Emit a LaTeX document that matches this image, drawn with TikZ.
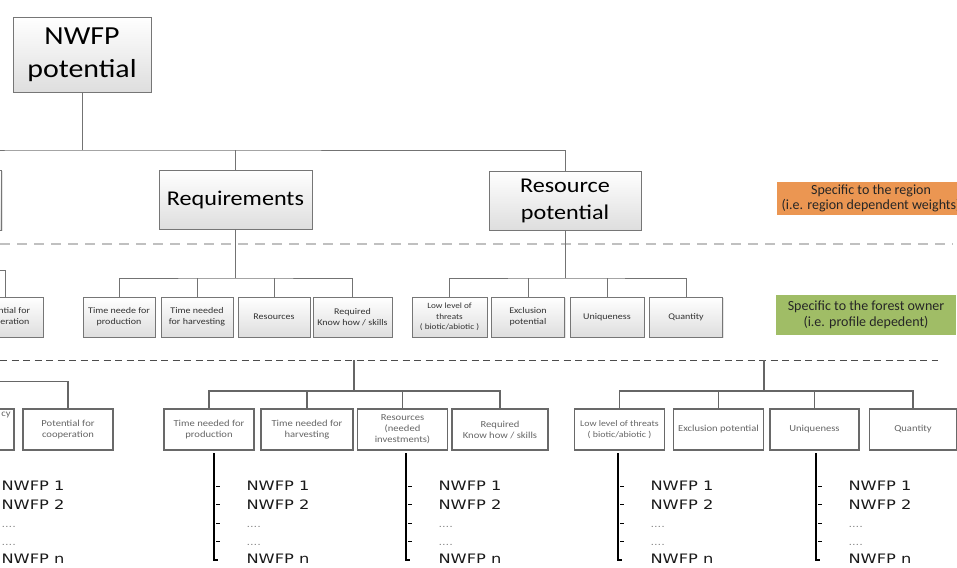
\documentclass[tikz,border=0pt]{standalone}
\usepackage{fontspec}
\setmainfont[FakeStretch=1.15]{Carlito}
\newfontfamily\labelfont{Carlito}
\newfontfamily\listfont[FakeStretch=1.25]{DejaVu Sans}
\usetikzlibrary{shadows}

\definecolor{boxline}{RGB}{118,118,118}
\definecolor{subline}{RGB}{105,105,105}
\definecolor{regionorange}{RGB}{235,150,82}
\definecolor{ownergreen}{RGB}{160,189,102}
\definecolor{dashgray}{RGB}{192,192,192}

\tikzset{
  mainbox/.style={draw=boxline, line width=0.9pt, top color=white, bottom color=black!13,
    align=center, inner sep=2pt, drop shadow={opacity=0.2, shadow xshift=1.2pt, shadow yshift=-1.2pt}},
  critbox/.style={mainbox, minimum height=40pt, font=\fontsize{8.7}{11}\selectfont, text=black!80},
  subbox/.style={draw=subline, line width=1.4pt, fill=white, align=center, minimum width=90pt,
    minimum height=41pt, inner sep=1pt, font=\fontsize{9.2}{11}\selectfont, text=black!60},
  conn/.style={draw=black!55, line width=0.9pt},
  subconn/.style={draw=black!60, line width=1.4pt},
  tagbox/.style={align=center, text=black!85, font=\labelfont\fontsize{14}{15.5}\selectfont, inner sep=0pt},
  listitem/.style={anchor=base west, text=black!90, font=\listfont\fontsize{13}{15}\selectfont},
  dotitem/.style={anchor=base west, text=black!50, font=\listfont\fontsize{9}{10}\selectfont}
}

\begin{document}
\begin{tikzpicture}[x=1pt, y=-1pt]
    % Frame of the picture, cut on the left
    \useasboundingbox (0,0) rectangle (957,567);
    \clip (0,0) rectangle (957,567);

    % Top level and second level boxes
    \node[mainbox, minimum width=138pt, minimum height=75pt, font=\fontsize{26}{33}\selectfont] (top) at (82,54.5) {NWFP\\potential};
    \node[mainbox, minimum width=152pt, minimum height=60pt] (lefttop) at (-74.5,200) {};
    \node[mainbox, minimum width=153pt, minimum height=59pt, font=\fontsize{21}{27}\selectfont] (req) at (235.5,199.5) {Requirements};
    \node[mainbox, minimum width=152pt, minimum height=59pt, font=\fontsize{21}{27}\selectfont] (res) at (565,200.5) {Resource\\potential};

    % Coloured tags on the right
    \node[tagbox, fill=regionorange, minimum width=188pt, minimum height=33pt] (region) at (871,198.5) {Specific to the region\\(i.e. region dependent weights)};
    \node[tagbox, fill=ownergreen, minimum width=180pt, minimum height=40pt] (owner) at (866,315) {Specific to the forest owner\\(i.e. profile depedent)};

    % Dashed separators
    \coordinate (sepA) at (0,244);
    \coordinate (sepB) at (953,244);
    \draw[dashgray, line width=2pt, dash pattern=on 10pt off 7pt] (sepA) -- (sepB);
    \coordinate (sepC) at (0,360);
    \coordinate (sepD) at (938,360);
    \draw[black!70, line width=0.9pt, dash pattern=on 7pt off 4.5pt] (sepC) -- (sepD);

    % Links below the top box
    \coordinate (topbus) at (82,150);
    \draw[conn] (top.south) -- (topbus);
    \draw[conn] (lefttop.north) |- (topbus) -| (res.north);
    \draw[conn] (req.north) -- (req.north |- topbus);

    % Criteria of the second row
    \node[critbox, minimum width=76pt] (coop) at (5,317) {Potential for\\cooperation};
    \node[critbox, minimum width=72pt] (time1) at (119,317) {Time neede for\\production};
    \node[critbox, minimum width=72pt] (time2) at (197,317) {Time needed\\for harvesting};
    \node[critbox, minimum width=72pt] (resources) at (274,317) {Resources};
    \node[critbox, minimum width=79pt] (knowhow) at (352.5,317) {Required\\Know how / skills};
    \node[critbox, minimum width=75pt, font=\fontsize{8}{10.5}\selectfont] (threats) at (449.5,317) {Low level of\\threats\\( biotic/abiotic )};
    \node[critbox, minimum width=73pt] (exclusion) at (528,317) {Exclusion\\potential};
    \node[critbox, minimum width=74pt] (unique) at (607,317) {Uniqueness};
    \node[critbox, minimum width=73pt] (quantity) at (686,317) {Quantity};

    % Links of the second row
    \coordinate (coopbus) at (-60,270);
    \draw[conn] (coop.north) |- (coopbus);
    \coordinate (reqbus) at (235.5,278);
    \draw[conn] (req.south) -- (reqbus);
    \draw[conn] (time1.north) |- (reqbus) -| (knowhow.north);
    \draw[conn] (time2.north) -- (time2.north |- reqbus);
    \draw[conn] (resources.north) -- (resources.north |- reqbus);
    \coordinate (resbus) at (565,278);
    \draw[conn] (res.south) -- (resbus);
    \draw[conn] (threats.north) |- (resbus) -| (quantity.north);
    \draw[conn] (exclusion.north) -- (exclusion.north |- resbus);
    \draw[conn] (unique.north) -- (unique.north |- resbus);

    % Criteria of the third row
    \node[subbox] (lcy) at (-31,429.5) {};
    \node[text=black!60, font=\fontsize{9.2}{11}\selectfont] (lcytext) at (6,415) {cy};
    \node[subbox] (coopB) at (68,429.5) {Potential for\\cooperation};
    \node[subbox] (prodB) at (209,429.5) {Time needed for\\production};
    \node[subbox, minimum width=92pt] (harvB) at (307,429.5) {Time needed for\\harvesting};
    \node[subbox] (investB) at (402.5,429.5) {Resources\\(needed\\investments)};
    \node[subbox, minimum width=96pt] (skillB) at (500,429.5) {Required\\Know how / skills};
    \node[subbox, font=\fontsize{8.6}{10.5}\selectfont] (threatB) at (619.5,429.5) {Low level of threats\\( biotic/abiotic )};
    \node[subbox] (exclB) at (718.5,429.5) {Exclusion potential};
    \node[subbox, minimum width=89pt] (uniqB) at (814.5,429.5) {Uniqueness};
    \node[subbox, minimum width=87pt] (quantB) at (913,429.5) {Quantity};

    % Links of the third row
    \draw[subconn] (lcy.north) -- ++(0,-27) -| (coopB.north);
    \coordinate (reqdrop) at (354,360);
    \coordinate (reqbusB) at (354,391);
    \draw[subconn] (reqdrop) -- (reqbusB);
    \draw[subconn] (prodB.north) |- (reqbusB) -| (skillB.north);
    \draw[subconn] (harvB.north) -- (harvB.north |- reqbusB);
    \draw[subconn] (investB.north) -- (investB.north |- reqbusB);
    \coordinate (resdrop) at (764,360);
    \coordinate (resbusB) at (764,391);
    \draw[subconn] (resdrop) -- (resbusB);
    \draw[subconn] (threatB.north) |- (resbusB) -| (quantB.north);
    \draw[subconn] (exclB.north) -- (exclB.north |- resbusB);
    \draw[subconn] (uniqB.north) -- (uniqB.north |- resbusB);

    % Lists of products
    \foreach \lpos/\lname in {-31/la, 214/lb, 406/lc, 618/ld, 816/le} {
        \coordinate (\lname top) at (\lpos,453);
        \coordinate (\lname bot) at (\lpos,560);
        \draw[line width=1.3pt] (\lname top) -- (\lname bot) -- ++(4,0);
        \foreach \ty in {486,504,523,541}
            \draw[line width=0.8pt] ({\lpos+2},\ty) -- ++(4,0);
        \node[listitem] (\lname1) at ({\lpos+29},490.5) {NWFP 1};
        \node[listitem] (\lname2) at ({\lpos+29},509) {NWFP 2};
        \node[dotitem] (\lname3) at ({\lpos+29},527.5) {....};
        \node[dotitem] (\lname4) at ({\lpos+29},545.5) {....};
        \node[listitem] (\lname5) at ({\lpos+29},563) {NWFP n};
    }

\end{tikzpicture}
\end{document}
